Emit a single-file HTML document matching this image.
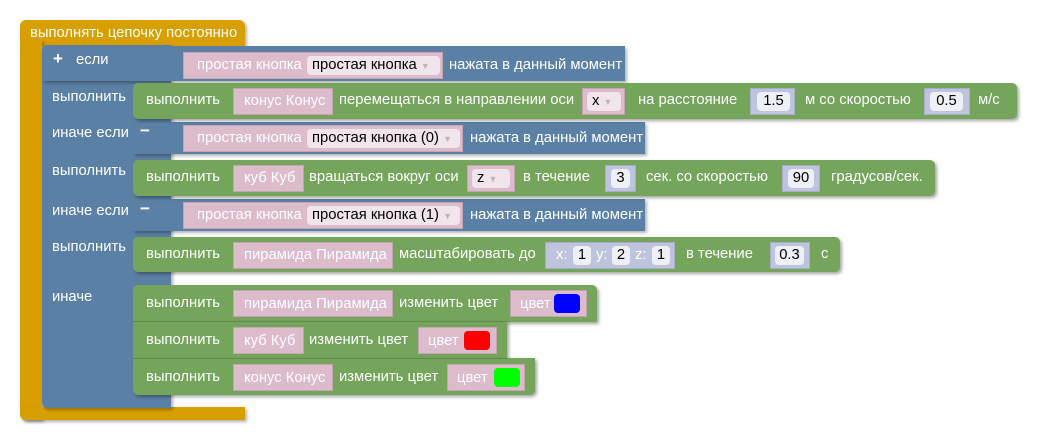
<!DOCTYPE html>
<html><head><meta charset="utf-8"><style>
body{margin:0;width:1041px;height:440px;background:#fff;position:relative;overflow:hidden;font-family:"Liberation Sans",Arial,sans-serif;font-size:14.8px;color:#fff}
div,span{position:absolute;box-sizing:border-box}
.o{background:#d89f00}
.b{background:#5b80a5}
.g{background:#74a55b;border-radius:5px;box-shadow:2px 2px 3px rgba(0,0,0,.35)}
.bs{box-shadow:2px 2px 3px rgba(0,0,0,.3)}
.p{background:#dcbccb;border:1px solid #c6a3b4}
.n{background:#bfc4de;border:1px solid #a7acc9}
.f{background:#eef0f6;color:#000;border-radius:4px;text-align:center;line-height:19px}
.pf{background:#f1e5ec;color:#000;border-radius:4px;line-height:19px;padding-left:5px;white-space:nowrap}
.t{white-space:nowrap;line-height:16px}
.ar{color:#c9aebb;font-size:9px}
</style></head><body>
<div class="o bs" style="left:20px;top:20px;width:225px;height:26px;border-radius:6px 6px 0 0"></div>
<div class="o bs" style="left:20px;top:40px;width:22px;height:380px;border-radius:0 0 0 6px"></div>
<div class="o bs" style="left:20px;top:407px;width:225px;height:13px;border-radius:0 0 0 6px"></div>
<span class="t" style="left:30px;top:25px">выполнять цепочку постоянно</span>
<div class="b bs" style="left:42px;top:45px;width:129px;height:363px;border-radius:5px 0 0 5px"></div>
<div class="b bs" style="left:42px;top:46px;width:583px;height:35px;border-radius:5px 0 0 0"></div>
<div class="b bs" style="left:133px;top:122px;width:512px;height:32px"></div>
<div class="b bs" style="left:133px;top:199px;width:512px;height:32px"></div>
<span class="t" style="left:53px;top:51px;font-weight:bold;font-size:17px">+</span>
<span class="t" style="left:76px;top:52px">если</span>
<span class="t" style="left:52px;top:89px">выполнить</span>
<span class="t" style="left:52px;top:125px">иначе если</span>
<span class="t" style="left:140px;top:123px;font-weight:bold;font-size:17px">−</span>
<span class="t" style="left:52px;top:163px">выполнить</span>
<span class="t" style="left:52px;top:203px">иначе если</span>
<span class="t" style="left:140px;top:201px;font-weight:bold;font-size:17px">−</span>
<span class="t" style="left:52px;top:239px">выполнить</span>
<span class="t" style="left:52px;top:289px">иначе</span>

<div class="p" style="left:183px;top:52px;width:260px;height:27px"></div>
<span class="t" style="left:197px;top:57px">простая кнопка</span>
<div class="pf" style="left:307px;top:56px;width:133px;height:19px">простая кнопка <span class="ar" style="position:static">▼</span></div>
<span class="t" style="left:449px;top:57px">нажата в данный момент</span>

<div class="p" style="left:183px;top:125px;width:280px;height:27px"></div>
<span class="t" style="left:197px;top:130px">простая кнопка</span>
<div class="pf" style="left:307px;top:129px;width:153px;height:19px">простая кнопка (0) <span class="ar" style="position:static">▼</span></div>
<span class="t" style="left:470px;top:130px">нажата в данный момент</span>

<div class="p" style="left:183px;top:202px;width:280px;height:27px"></div>
<span class="t" style="left:197px;top:207px">простая кнопка</span>
<div class="pf" style="left:307px;top:206px;width:153px;height:19px">простая кнопка (1) <span class="ar" style="position:static">▼</span></div>
<span class="t" style="left:470px;top:207px">нажата в данный момент</span>

<div class="g" style="left:133px;top:83px;width:884px;height:36px"></div>
<span class="t" style="left:146px;top:92px">выполнить</span>
<div class="p" style="left:233px;top:88px;width:100px;height:27px"></div>
<span class="t" style="left:244px;top:93px">конус Конус</span>
<span class="t" style="left:339px;top:92px">перемещаться в направлении оси</span>
<div class="p" style="left:582px;top:88px;width:43px;height:27px"></div>
<div class="pf" style="left:587px;top:92px;width:34px;height:19px">x <span class="ar" style="position:static">▼</span></div>
<span class="t" style="left:638px;top:92px">на расстояние</span>
<div class="n" style="left:750px;top:88px;width:45px;height:27px"></div>
<div class="f" style="left:757px;top:92px;width:33px;height:19px">1.5</div>
<span class="t" style="left:805px;top:92px">м со скоростью</span>
<div class="n" style="left:924px;top:88px;width:46px;height:27px"></div>
<div class="f" style="left:930px;top:92px;width:33px;height:19px">0.5</div>
<span class="t" style="left:978px;top:92px">м/с</span>

<div class="g" style="left:133px;top:160px;width:802px;height:36px"></div>
<span class="t" style="left:146px;top:169px">выполнить</span>
<div class="p" style="left:233px;top:165px;width:71px;height:27px"></div>
<span class="t" style="left:244px;top:170px">куб Куб</span>
<span class="t" style="left:309px;top:169px">вращаться вокруг оси</span>
<div class="p" style="left:467px;top:165px;width:48px;height:27px"></div>
<div class="pf" style="left:472px;top:169px;width:38px;height:19px">z <span class="ar" style="position:static">▼</span></div>
<span class="t" style="left:523px;top:169px">в течение</span>
<div class="n" style="left:605px;top:165px;width:31px;height:27px"></div>
<div class="f" style="left:611px;top:169px;width:19px;height:19px">3</div>
<span class="t" style="left:646px;top:169px">сек. со скоростью</span>
<div class="n" style="left:782px;top:165px;width:38px;height:27px"></div>
<div class="f" style="left:788px;top:169px;width:26px;height:19px">90</div>
<span class="t" style="left:831px;top:169px">градусов/сек.</span>

<div class="g" style="left:133px;top:237px;width:707px;height:35px"></div>
<span class="t" style="left:146px;top:246px">выполнить</span>
<div class="p" style="left:233px;top:242px;width:160px;height:27px"></div>
<span class="t" style="left:244px;top:247px">пирамида Пирамида</span>
<span class="t" style="left:399px;top:246px">масштабировать до</span>
<div class="n" style="left:545px;top:242px;width:130px;height:27px"></div>
<span class="t" style="left:556px;top:247px">x:</span>
<div class="f" style="left:573px;top:246px;width:18px;height:19px">1</div>
<span class="t" style="left:596px;top:247px">y:</span>
<div class="f" style="left:612px;top:246px;width:18px;height:19px">2</div>
<span class="t" style="left:635px;top:247px">z:</span>
<div class="f" style="left:652px;top:246px;width:18px;height:19px">1</div>
<span class="t" style="left:686px;top:246px">в течение</span>
<div class="n" style="left:770px;top:242px;width:40px;height:27px"></div>
<div class="f" style="left:775px;top:246px;width:29px;height:19px">0.3</div>
<span class="t" style="left:821px;top:246px">с</span>

<div class="g" style="left:133px;top:285px;width:464px;height:37px;border-radius:5px 5px 0 0"></div>
<div class="g" style="left:133px;top:321px;width:374px;height:38px;border-radius:0"></div>
<div class="g" style="left:133px;top:358px;width:402px;height:37px;border-radius:0 0 5px 5px"></div>
<div style="left:133px;top:321px;width:374px;height:1px;background:#5f8a49"></div>
<div style="left:133px;top:358px;width:374px;height:1px;background:#5f8a49"></div>

<span class="t" style="left:146px;top:295px">выполнить</span>
<div class="p" style="left:233px;top:290px;width:160px;height:27px"></div>
<span class="t" style="left:244px;top:296px">пирамида Пирамида</span>
<span class="t" style="left:399px;top:295px">изменить цвет</span>
<div class="p" style="left:510px;top:290px;width:77px;height:27px"></div>
<span class="t" style="left:520px;top:296px">цвет</span>
<div style="left:554px;top:294px;width:26px;height:19px;background:#0000ff;border-radius:4px"></div>

<span class="t" style="left:146px;top:332px">выполнить</span>
<div class="p" style="left:233px;top:327px;width:71px;height:27px"></div>
<span class="t" style="left:244px;top:333px">куб Куб</span>
<span class="t" style="left:309px;top:332px">изменить цвет</span>
<div class="p" style="left:418px;top:327px;width:79px;height:27px"></div>
<span class="t" style="left:428px;top:333px">цвет</span>
<div style="left:464px;top:331px;width:26px;height:19px;background:#ff0000;border-radius:4px"></div>

<span class="t" style="left:146px;top:369px">выполнить</span>
<div class="p" style="left:233px;top:364px;width:100px;height:27px"></div>
<span class="t" style="left:244px;top:370px">конус Конус</span>
<span class="t" style="left:339px;top:369px">изменить цвет</span>
<div class="p" style="left:447px;top:364px;width:78px;height:27px"></div>
<span class="t" style="left:457px;top:370px">цвет</span>
<div style="left:494px;top:368px;width:26px;height:19px;background:#00ff00;border-radius:4px"></div>
</body></html>
